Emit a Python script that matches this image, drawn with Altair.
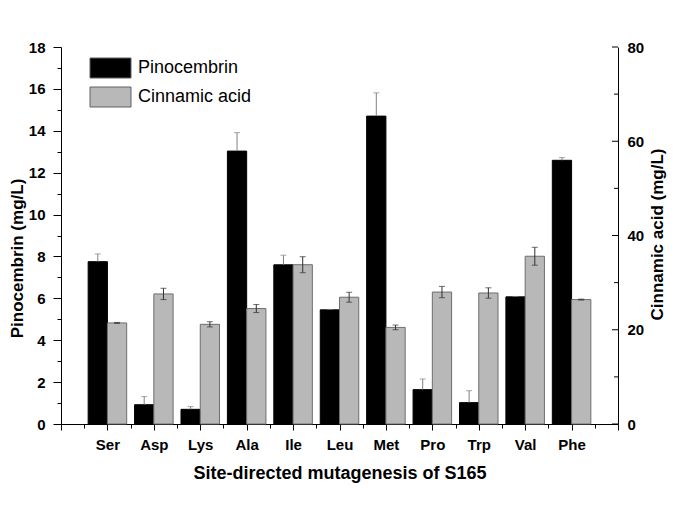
import json
import altair as alt
import pandas as pd

categories = ["Ser", "Asp", "Lys", "Ala", "Ile", "Leu", "Met", "Pro", "Trp", "Val", "Phe"]
pinocembrin = [7.75, 0.92, 0.70, 13.03, 7.60, 5.45, 14.70, 1.64, 1.02, 6.07, 12.59]
pinocembrin_err = [0.37, 0.39, 0.13, 0.88, 0.46, 0.02, 1.11, 0.51, 0.57, 0.02, 0.13]
cinnamic = [21.45, 27.6, 21.15, 24.5, 33.8, 26.9, 20.5, 28.0, 27.8, 35.6, 26.4]
cinnamic_err = [0.1, 1.2, 0.55, 0.85, 1.7, 1.05, 0.5, 1.2, 1.1, 1.9, 0.1]
series = ["Pinocembrin", "Cinnamic acid"]
left_ticks = list(range(0, 19))
right_major = [0, 20, 40, 60, 80]
right_minor = [10, 30, 50, 70]
x_ticks = [i / 2 for i in range(-2, 2 * len(categories) + 3)]

FONT = "Liberation Sans"
BW = 0.415
W, H = 557, 377
n = len(categories)

p_df = pd.DataFrame({"idx": list(range(n)), "value": pinocembrin, "err": pinocembrin_err})
p_df["series"] = series[0]
c_df = pd.DataFrame({"idx": list(range(n)), "value": cinnamic, "err": cinnamic_err})
c_df["series"] = series[1]

cat_js = json.dumps(categories)
x_scale = alt.Scale(domain=[-1, n], nice=False, zero=False)
x_axis = alt.Axis(
    values=x_ticks,
    labelExpr=f"(datum.value % 1 === 0 && datum.value >= 0 && datum.value < {n}) ? {cat_js}[datum.value] : ''",
    title="Site-directed mutagenesis of S165",
    tickSize={"condition": {"test": "datum.value % 1 === 0", "value": 6}, "value": 4},
    labelPadding=7,
    titleY=40,
    titleBaseline="top",
    labelOverlap=False,
)

yl_scale = alt.Scale(domain=[0, 18], nice=False, zero=True)
yr_scale = alt.Scale(domain=[0, 80], nice=False, zero=True)

left_axis = alt.Axis(
    title="Pinocembrin (mg/L)",
    orient="left",
    values=left_ticks,
    labelExpr="datum.value % 2 === 0 ? datum.label : ''",
    tickSize={"condition": {"test": "datum.value % 2 === 0", "value": 8}, "value": 4},
    labelPadding=8,
    titleAngle=270,
    titleBaseline="middle",
    titleX=-44,
    titleY=211,
    titleFontSize=17,
    labelOverlap=False,
)
right_axis = alt.Axis(
    title="Cinnamic acid (mg/L)",
    orient="right",
    values=right_major,
    ticks=False,
    labelPadding=9,
    titleAngle=270,
    titleBaseline="middle",
    titleX=39,
    titleY=187,
    titleFontSize=17,
    labelOverlap=False,
)

color_scale = alt.Scale(domain=series, range=["#000000", "#b8b8b8"])
legend = alt.Legend(
    orient="none",
    legendX=39,
    legendY=10.5,
    title=None,
    symbolType="M-2.05,-1H2.05V1H-2.05Z",
    symbolSize=400,
    symbolStrokeColor="#606060",
    symbolStrokeWidth=1,
    symbolOpacity=1,
    labelFont=FONT,
    labelFontSize=18,
    labelFontWeight="normal",
    labelColor="black",
    rowPadding=4,
    labelOffset=17,
)

# Pinocembrin (left axis)
p_base = alt.Chart(p_df).transform_calculate(
    x0=f"datum.idx - {BW}", x1="datum.idx", xc=f"datum.idx - {BW / 2}", hi="datum.value + datum.err"
)
p_bars = p_base.mark_rect(stroke="black", strokeWidth=1).encode(
    x=alt.X("x0:Q", scale=x_scale, axis=x_axis),
    x2="x1:Q",
    y=alt.Y("value:Q", scale=yl_scale, axis=left_axis),
    y2=alt.datum(0),
    color=alt.Color("series:N", scale=color_scale, legend=legend),
)
p_err = p_base.mark_rule(color="#808080", strokeWidth=1).encode(
    x=alt.X("xc:Q", scale=x_scale, axis=x_axis),
    y=alt.Y("value:Q", scale=yl_scale, axis=left_axis),
    y2="hi:Q",
)
p_cap = p_base.mark_tick(orient="horizontal", size=6, thickness=1, color="#808080").encode(
    x=alt.X("xc:Q", scale=x_scale, axis=x_axis),
    y=alt.Y("hi:Q", scale=yl_scale, axis=left_axis),
)
left_group = alt.layer(p_bars, p_err, p_cap)

# Cinnamic acid (right axis)
c_base = alt.Chart(c_df).transform_calculate(
    x0="datum.idx", x1=f"datum.idx + {BW}", xc=f"datum.idx + {BW / 2}",
    hi="datum.value + datum.err", lo="datum.value - datum.err"
)
c_bars = c_base.mark_rect(stroke="#6e6e6e", strokeWidth=1).encode(
    x=alt.X("x0:Q", scale=x_scale, axis=x_axis),
    x2="x1:Q",
    y=alt.Y("value:Q", scale=yr_scale, axis=right_axis),
    y2=alt.datum(0),
    color=alt.Color("series:N", scale=color_scale, legend=legend),
)
c_err = c_base.mark_rule(color="#303030", strokeWidth=1).encode(
    x=alt.X("xc:Q", scale=x_scale, axis=x_axis),
    y=alt.Y("lo:Q", scale=yr_scale, axis=right_axis),
    y2="hi:Q",
)
c_cap_hi = c_base.mark_tick(orient="horizontal", size=6, thickness=1, color="#303030").encode(
    x=alt.X("xc:Q", scale=x_scale, axis=x_axis),
    y=alt.Y("hi:Q", scale=yr_scale, axis=right_axis),
)
c_cap_lo = c_base.mark_tick(orient="horizontal", size=6, thickness=1, color="#303030").encode(
    x=alt.X("xc:Q", scale=x_scale, axis=x_axis),
    y=alt.Y("lo:Q", scale=yr_scale, axis=right_axis),
)
r_major = alt.Chart(pd.DataFrame({"t": right_major})).mark_rule(color="black", strokeWidth=1).encode(
    x=alt.value(W - 6), x2=alt.value(W),
    y=alt.Y("t:Q", scale=yr_scale, axis=right_axis),
)
r_minor = alt.Chart(pd.DataFrame({"t": right_minor})).mark_rule(color="black", strokeWidth=1).encode(
    x=alt.value(W - 4), x2=alt.value(W),
    y=alt.Y("t:Q", scale=yr_scale, axis=right_axis),
)
right_group = alt.layer(c_bars, c_err, c_cap_hi, c_cap_lo, r_major, r_minor)

chart = alt.layer(left_group, right_group).resolve_scale(y="independent").properties(
    width=W,
    height=H,
    padding={"left": 53, "top": 39, "right": 49, "bottom": 90},
    autosize=alt.AutoSizeParams(type="none"),
    background="white",
).configure_view(stroke=None).configure_axis(
    labelFont=FONT,
    labelFontSize=15,
    labelFontWeight="bold",
    labelColor="black",
    titleFont=FONT,
    titleFontSize=18,
    titleFontWeight="bold",
    titleColor="black",
    domainColor="black",
    domainWidth=1,
    tickColor="black",
    tickWidth=1,
    grid=False,
)

chart.save("out.html", embed_options={"renderer": "svg", "actions": False})
